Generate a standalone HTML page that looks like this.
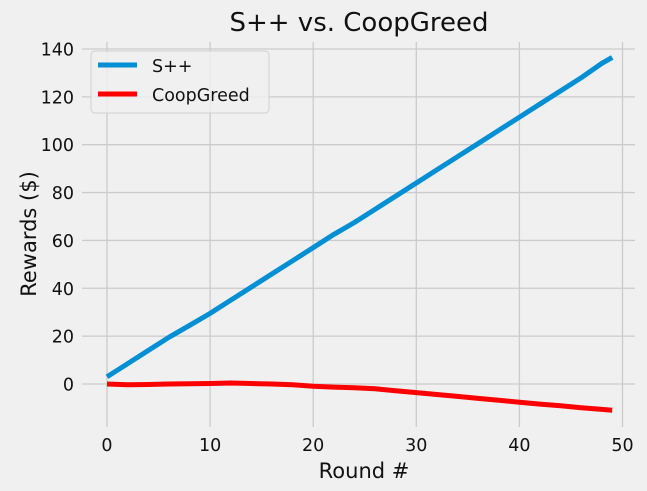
<!DOCTYPE html>
<html><head><meta charset="utf-8"><style>
body{margin:0;background:#f0f0f0;}
svg{display:block;font-family:"DejaVu Sans","Liberation Sans",sans-serif;}
</style></head><body>
<svg id="chart" width="647" height="491">
<rect width="647" height="491" fill="#f0f0f0"/>
<g id="grid"></g><g id="ticks"></g><g id="lines"></g>
<text x="359" y="31" font-size="26" text-anchor="middle" fill="#111">S++ vs. CoopGreed</text>
<text x="364" y="478" font-size="21" text-anchor="middle" fill="#111">Round #</text>
<text transform="translate(36,234) rotate(-90)" font-size="21" text-anchor="middle" fill="#111">Rewards ($)</text>
<g>
<rect x="91" y="51" width="178" height="62" rx="4" fill="#f0f0f0" fill-opacity="0.8" stroke="#d0d0d0"/>
<line x1="98" y1="65" x2="137" y2="65" stroke="#008fd5" stroke-width="5"/>
<text x="152" y="72" font-size="17.5" fill="#111">S++</text>
<line x1="98" y1="94" x2="137" y2="94" stroke="#ff0000" stroke-width="5"/>
<text x="152" y="101" font-size="17.5" fill="#111">CoopGreed</text>
</g>
</svg>
<script>
const xTicks=[0,10,20,30,40,50];
const yTicks=[0,20,40,60,80,100,120,140];
const rounds=[0,2,4,6,8,10,12,14,16,18,20,22,24,26,28,30,32,34,36,38,40,42,44,46,48,49];
const sppValues=[3,8.5,14,19.5,24.5,29.5,35,40.5,46,51.5,57,62.5,67.5,73,78.5,84,89.5,95,100.5,106,111.5,117,122.5,128,134,136.5];
const coopValues=[0,-0.3,-0.2,0,0.1,0.2,0.4,0.2,0,-0.3,-0.9,-1.3,-1.6,-2,-2.8,-3.6,-4.4,-5.2,-6,-6.8,-7.6,-8.4,-9.1,-9.9,-10.6,-11];
const NS="http://www.w3.org/2000/svg";
const xs=v=>107+v*10.31;
const ys=v=>384-v*2.393;
function mk(t,a,p){const e=document.createElementNS(NS,t);for(const k in a)e.setAttribute(k,a[k]);p.appendChild(e);return e;}
const g=document.getElementById('grid'),tk=document.getElementById('ticks'),ln=document.getElementById('lines');
xTicks.forEach(v=>{
 const l=mk('line',{x1:xs(v),x2:xs(v),y1:42,y2:427,stroke:'#cbcbcb','stroke-width':1.3},g);
 
 
 const t=mk('text',{x:xs(v),y:451,'font-size':17.5,'text-anchor':'middle',fill:'#111'},tk);
 t.textContent=v;
 
 
});
yTicks.forEach(v=>{
 const l=mk('line',{x1:82,x2:635,y1:ys(v),y2:ys(v),stroke:'#cbcbcb','stroke-width':1.3},g);
 
 
 const t=mk('text',{x:74,y:ys(v)+6.5,'font-size':17.5,'text-anchor':'end',fill:'#111'},tk);
 t.textContent=v;
 
 
});
function series(vals,color,name){
 const d=rounds.map((r,i)=>(i?'L':'M')+xs(r).toFixed(1)+','+ys(vals[i]).toFixed(1)).join('');
 const p=mk('path',{d:d,fill:'none',stroke:color,'stroke-width':5,'stroke-linejoin':'round'},ln);
 
 
}
series(sppValues,'#008fd5','series-spp-line');
series(coopValues,'#ff0000','series-coopgreed-line');
</script>
</body></html>
